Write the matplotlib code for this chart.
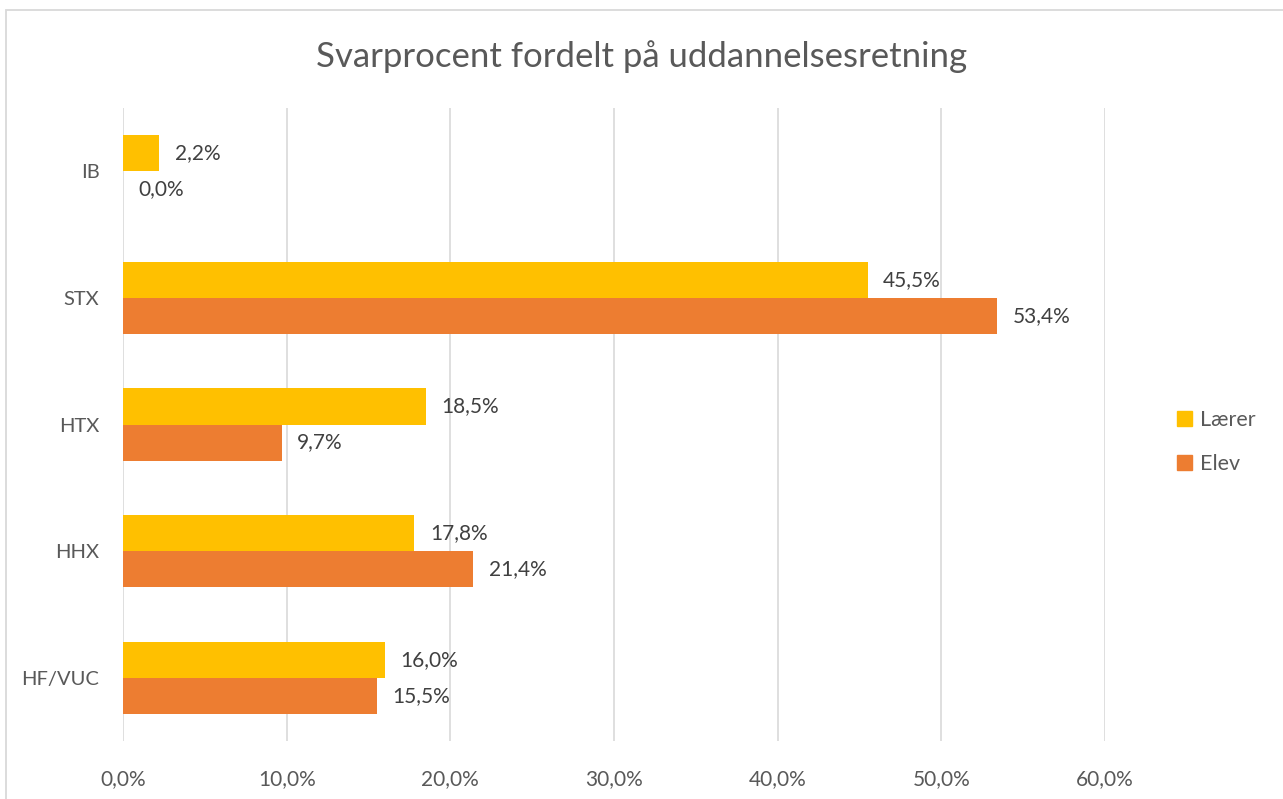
import matplotlib
matplotlib.use("Agg")
import matplotlib.pyplot as plt
from matplotlib.patches import Rectangle
import numpy as np

categories = ["HF/VUC", "HHX", "HTX", "STX", "IB"]
laerer = [16.0, 17.8, 18.5, 45.5, 2.2]
elev = [15.5, 21.4, 9.7, 53.4, 0.0]
xticks = [0, 10, 20, 30, 40, 50, 60]
title = "Svarprocent fordelt på uddannelsesretning"
series_names = ["Lærer", "Elev"]

plt.rcParams['font.family'] = ['Lato', 'DejaVu Sans']

W, H = 1283, 799
fig = plt.figure(figsize=(W/100, H/100), dpi=100)
fig.patches.append(Rectangle((6/W, -0.01), 1.02, 1 - 10/H + 0.01, transform=fig.transFigure,
                             fill=False, edgecolor='#D9D9D9', linewidth=1.3))
ax = fig.add_axes([123/W, 1-741/H, (1105-123)/W, (741-108)/H])

y = np.arange(len(categories))
h = 0.285
c_l = '#FFC000'
c_e = '#ED7D31'
ax.barh(y + h/2, laerer, height=h, color=c_l, label=series_names[0], zorder=3)
ax.barh(y - h/2, elev, height=h, color=c_e, label=series_names[1], zorder=3)

for yi, v in zip(y, laerer):
    ax.text(v + 0.95, yi + h/2, f"{v:.1f}%".replace('.', ','), va='center', ha='left',
            fontsize=15, color='#404040')
for yi, v in zip(y, elev):
    ax.text(v + 0.95, yi - h/2, f"{v:.1f}%".replace('.', ','), va='center', ha='left',
            fontsize=15, color='#404040')

ax.set_xlim(0, 60)
ax.set_ylim(-0.5, len(categories) - 0.5)
ax.set_xticks(xticks)
ax.set_xticklabels([f"{t:.1f}%".replace('.', ',') for t in xticks], fontsize=15, color='#595959')
ax.set_yticks(y)
ax.set_yticklabels(categories, fontsize=14.5, color='#595959')
ax.tick_params(axis='x', length=0, pad=20)
ax.tick_params(axis='y', length=0, pad=17)
ax.grid(axis='x', color='#D9D9D9', linewidth=1.2, zorder=0)
for s in ['top', 'right', 'left', 'bottom']:
    ax.spines[s].set_visible(False)

fig.text(0.5, 1-57/H, title, ha='center', va='center', fontsize=25, color='#595959')

leg = fig.legend(handles=[Rectangle((0, 0), 1, 1, color=c_l), Rectangle((0, 0), 1, 1, color=c_e)],
                 labels=series_names, loc='center left', bbox_to_anchor=(1158/W, 1-442/H),
                 frameon=False, fontsize=15.5, handlelength=0.7, handleheight=0.7,
                 handletextpad=0.35, labelspacing=1.1, labelcolor='#595959')

fig.savefig("out.png", dpi=100)
